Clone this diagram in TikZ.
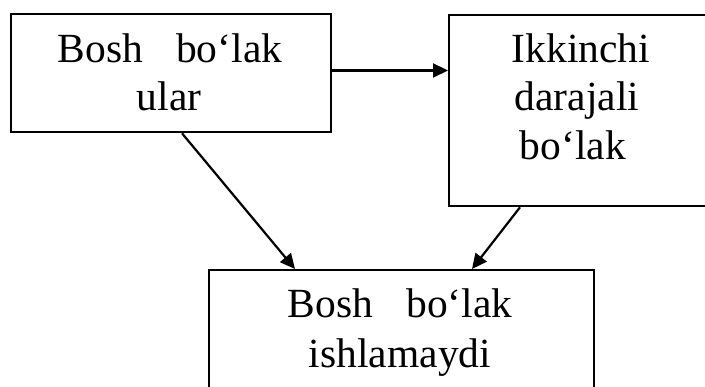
\documentclass[tikz,border=0pt]{standalone}
\usepackage{fontspec}
\setmainfont{Liberation Serif}
\usetikzlibrary{arrows.meta,calc}
\begin{document}
\begin{tikzpicture}[x=1pt,y=-1pt,
  box/.style={draw,line width=2.3pt,rectangle,anchor=north west,inner sep=0pt},
  txt/.style={anchor=base,inner sep=0pt,font=\fontsize{41.5}{48}\selectfont},
  arr/.style={line width=2.2pt,-{Triangle[length=15pt,width=14pt]}}]
\useasboundingbox (0,0) rectangle (705,387);
\clip (0,0) rectangle (705,387);
\node[box,minimum width=320pt,minimum height=118pt] (b1) at (10,13) {};
\node[box,minimum width=275pt,minimum height=191pt] (b2) at (448,14) {};
\node[box,minimum width=385pt,minimum height=150pt] (b3) at (208,269) {};
% texts
\node[txt] (t1a) at (170,63) {Bosh\hspace{0.55em} bo‘lak};
\node[txt] (t1b) at (169,111) {ular};
\node[txt] (t2a) at (581,63) {Ikkinchi};
\node[txt] (t2b) at (577,111) {darajali};
\node[txt] (t2c) at (573,160) {bo‘lak};
\node[txt] (t3a) at (400,318) {Bosh\hspace{0.55em} bo‘lak};
\node[txt] (t3b) at (400,368) {ishlamaydi};
% connectors
\coordinate (a1y) at (0,70.5);
\draw[arr] (b1.east |- a1y) -- (b2.west |- a1y);
\draw[arr] ($(b1.south west)+(172,0)$) -- ($(b3.north west)+(87,0)$);
\draw[arr] ($(b2.south west)+(72,0)$) -- ($(b3.north west)+(264,0)$);
\end{tikzpicture}
\end{document}
